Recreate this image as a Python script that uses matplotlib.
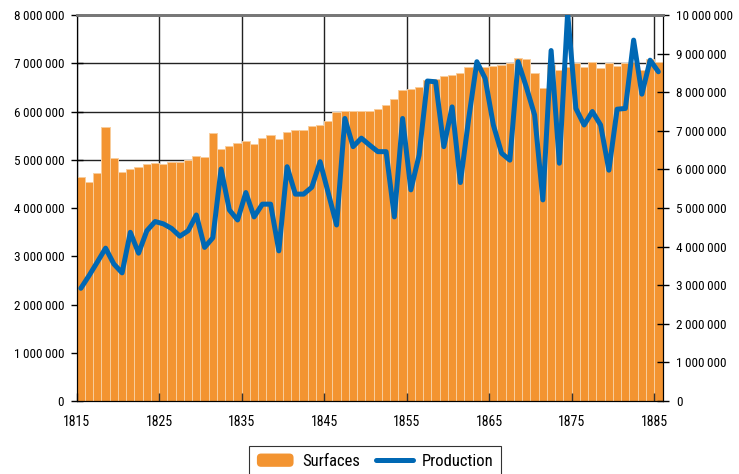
import numpy as np
import matplotlib
matplotlib.use('Agg')
import matplotlib.pyplot as plt
from matplotlib.ticker import FuncFormatter
from matplotlib import font_manager
from matplotlib.container import BarContainer
from matplotlib.legend_handler import HandlerPatch
from matplotlib.patches import FancyBboxPatch

years = list(range(1815, 1886))

# Surfaces (left axis)
surfaces = [
    4.65, 4.53, 4.73, 5.67, 5.04, 4.74, 4.80, 4.84, 4.91, 4.93,
    4.91, 4.95, 4.95, 4.99, 5.08, 5.06, 5.56, 5.22, 5.28, 5.35,
    5.39, 5.33, 5.46, 5.51, 5.43, 5.58, 5.62, 5.62, 5.71, 5.72,
    5.80, 5.98, 6.02, 6.02, 6.01, 6.01, 6.05, 6.13, 6.25, 6.45,
    6.47, 6.51, 6.65, 6.68, 6.74, 6.76, 6.80, 6.93, 6.91, 6.92,
    6.95, 6.96, 7.00, 7.10, 7.08, 6.80, 6.48, 6.97, 6.87, 6.92,
    7.00, 6.92, 7.03, 6.90, 7.00, 6.94, 7.00, 7.02, 6.87, 7.08,
    7.02,
]
surfaces = [v * 1e6 for v in surfaces]

# Production (right axis)
production = [
    2.92, 3.25, 3.60, 3.96, 3.55, 3.32, 4.37, 3.83, 4.41, 4.65,
    4.59, 4.47, 4.27, 4.41, 4.82, 3.98, 4.23, 6.01, 4.95, 4.69,
    5.40, 4.77, 5.10, 5.10, 3.89, 6.07, 5.36, 5.36, 5.54, 6.20,
    5.38, 4.56, 7.32, 6.59, 6.81, 6.63, 6.46, 6.46, 4.77, 7.32,
    5.47, 6.37, 8.29, 8.27, 6.59, 7.62, 5.66, 7.30, 8.79, 8.36,
    7.15, 6.42, 6.24, 8.79, 8.13, 7.41, 5.21, 9.08, 6.16, 10.05,
    7.58, 7.15, 7.50, 7.15, 5.98, 7.56, 7.58, 9.35, 7.95, 8.83,
    8.53,
]
production = [v * 1e6 for v in production]

orange = '#f39431'
blue = '#0068b4'

# pick a narrow face if one is there
names = {f.name for f in font_manager.fontManager.ttflist}
narrow = [n for n in ('Liberation Sans Narrow', 'Roboto Condensed',
                      'Open Sans Condensed') if n in names]
plt.rcParams['font.family'] = narrow + ['DejaVu Sans']
plt.rcParams['font.stretch'] = 'condensed'


def spaced(v, pos):
    return f"{int(round(v)):,}".replace(",", "\u2009")


class RoundPatch(HandlerPatch):
    # legend swatch with soft corners
    def create_artists(self, legend, orig_handle, xdescent, ydescent,
                       width, height, fontsize, trans):
        p = FancyBboxPatch((-xdescent, -ydescent), width, height,
                           boxstyle='round,pad=0,rounding_size=3',
                           facecolor=orange, edgecolor='none',
                           transform=trans)
        return [p]


fig = plt.figure(figsize=(7.39, 4.74), dpi=100)
ax = fig.add_axes([0.1038, 0.154, 0.7938, 0.8143])
ax2 = ax.twinx()

x = np.array(years)
bars = ax.bar(x, surfaces, width=1.0, align='edge', color=orange,
              edgecolor='#f9cd9c', linewidth=0.7, zorder=2,
              label='Surfaces')
line, = ax2.plot(x + 0.5, production, color=blue, linewidth=3.6,
                 solid_joinstyle='round', solid_capstyle='round', zorder=3,
                 label='Production')

ax.set_xlim(1815, 1886.1)
ax.set_ylim(0, 8e6)
ax2.set_ylim(0, 10e6)
ax.set_xticks(range(1815, 1886, 10))
ax.set_yticks(np.arange(0, 8e6 + 1, 1e6))
ax2.set_yticks(np.arange(0, 10e6 + 1, 1e6))
ax.yaxis.set_major_formatter(FuncFormatter(spaced))
ax2.yaxis.set_major_formatter(FuncFormatter(spaced))

ax.grid(True, color='#222222', linewidth=1.0, zorder=0)
ax.set_axisbelow(True)

ax.tick_params(axis='y', direction='inout', length=8, width=1, pad=5,
               labelsize=9.5)
ax.tick_params(axis='x', direction='in', length=0, pad=10, labelsize=10)
ax2.tick_params(axis='y', direction='inout', length=8, width=1, pad=5,
                labelsize=9.5)

# year ticks drawn on top of the bars (labels stay on ax)
ax2.xaxis.set_visible(True)
ax2.tick_params(axis='x', direction='in', length=6, width=1,
                color='#333333', top=False, bottom=True,
                labelbottom=False, labeltop=False)

for a in (ax, ax2):
    a.spines['top'].set_color('#777777')
    a.spines['top'].set_linewidth(2)
    a.spines['left'].set_color('black')
    a.spines['right'].set_color('black')
    a.spines['bottom'].set_color('black')

ax.set_zorder(1)
ax2.set_zorder(2)
ax2.patch.set_visible(False)

leg = fig.legend([bars, line], ['Surfaces', 'Production'],
                 loc='upper center', ncol=2,
                 bbox_to_anchor=(0.5075, 0.059), borderaxespad=0,
                 fontsize=12, frameon=True, fancybox=False,
                 edgecolor='black', handlelength=2.2, handleheight=0.85,
                 handletextpad=0.5, columnspacing=1.0, borderpad=0.45,
                 handler_map={BarContainer: RoundPatch()})
leg.get_frame().set_linewidth(0.8)

plt.savefig('out.png', dpi=100)
plt.close()
